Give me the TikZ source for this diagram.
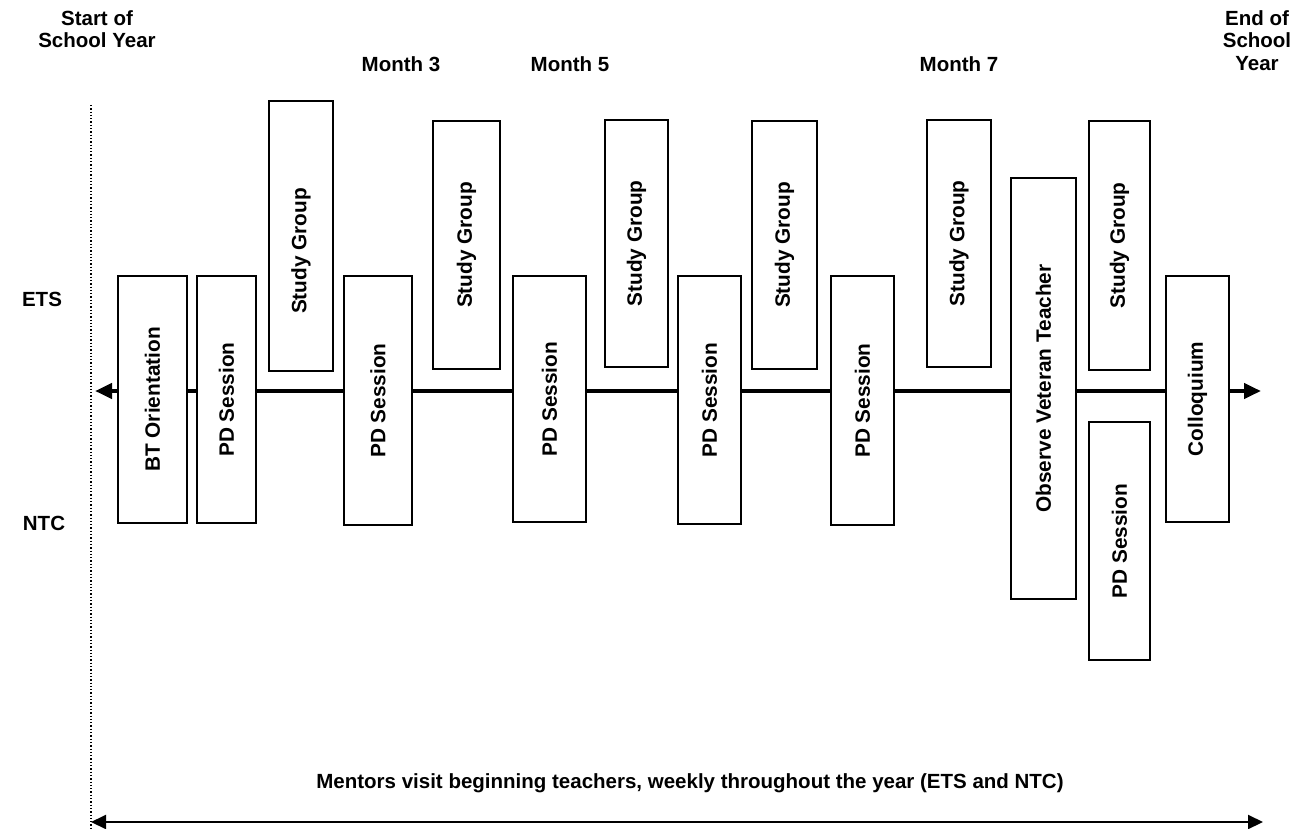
\documentclass[tikz,border=0pt]{standalone}
\usepackage{fontspec}
\setmainfont{Liberation Sans}
\usetikzlibrary{arrows.meta}
\tikzset{
  lbl/.style={font=\fontsize{20.5}{22.5}\selectfont\bfseries, align=center, inner sep=0pt},
  evbox/.style={draw=black, line width=1.6pt, fill=white, inner sep=0pt,
    font=\fontsize{20.8}{22.5}\selectfont\bfseries},
  mainline/.style={line width=4.5pt, {Triangle[length=17pt,width=15pt]}-{Triangle[length=17pt,width=15pt]}},
  mentorline/.style={line width=2pt, {Triangle[length=15pt,width=14pt]}-{Triangle[length=15pt,width=14pt]}},
}
\newcommand{\ev}[6]{\node[evbox, minimum width=#3pt, minimum height=#4pt] (#5) at (#1,#2) {\rotatebox{90}{#6}};}
\begin{document}
\begin{tikzpicture}[x=1pt,y=-1pt]
\useasboundingbox (0,0) rectangle (1292,829);
% dotted start line
\coordinate (dtop) at (91,105);
\coordinate (dbot) at (91,829);
\draw[line width=1.3pt, dotted] (dtop) -- (dbot);
% main timeline
\coordinate (mL) at (95,391);
\coordinate (mR) at (1261,391);
\draw[mainline] (mL) -- (mR);
% mentor line
\coordinate (bL) at (91,822);
\coordinate (bR) at (1263,822);
\draw[mentorline] (bL) -- (bR);
% labels
\node[lbl] (start) at (97,29) {Start of\\School Year};
\node[lbl] (end) at (1257,40.5) {End of\\School\\Year};
\node[lbl] (m3) at (401,64) {Month 3};
\node[lbl] (m5) at (570,64) {Month 5};
\node[lbl] (m7) at (959,64) {Month 7};
\node[lbl] (ets) at (42,299) {ETS};
\node[lbl] (ntc) at (44,523) {NTC};
\node[lbl] (mentors) at (690,783) {Mentors visit beginning teachers, weekly throughout the year (ETS and NTC)};
% event boxes
\ev{152.5}{399.5}{69}{247}{b1}{BT Orientation}
\ev{226.5}{399.5}{59}{247}{b2}{PD Session}
\node[evbox, minimum width=64pt, minimum height=270pt] (b3) at (301,236) {};
\node[evbox, draw=none, fill=none, rotate=90] (b3t) at ([yshift=-15pt]b3.center) {Study Group};
\ev{378}{400.5}{68}{249}{b4}{PD Session}
\ev{466.5}{245}{67}{248}{b5}{Study Group}
\ev{549.5}{399}{73}{246}{b6}{PD Session}
\ev{636.5}{243.5}{63}{247}{b7}{Study Group}
\ev{709.5}{400}{63}{248}{b8}{PD Session}
\ev{784.5}{245}{65}{248}{b9}{Study Group}
\ev{862.5}{400.5}{63}{249}{b10}{PD Session}
\ev{959}{243.5}{64}{247}{b11}{Study Group}
\ev{1043.5}{388.5}{65}{421}{b12}{Observe Veteran Teacher}
\ev{1119.5}{245.5}{61}{249}{b13}{Study Group}
\ev{1119.5}{541}{61}{238}{b14}{PD Session}
\ev{1197.5}{399}{63}{246}{b15}{Colloquium}
\end{tikzpicture}
\end{document}
